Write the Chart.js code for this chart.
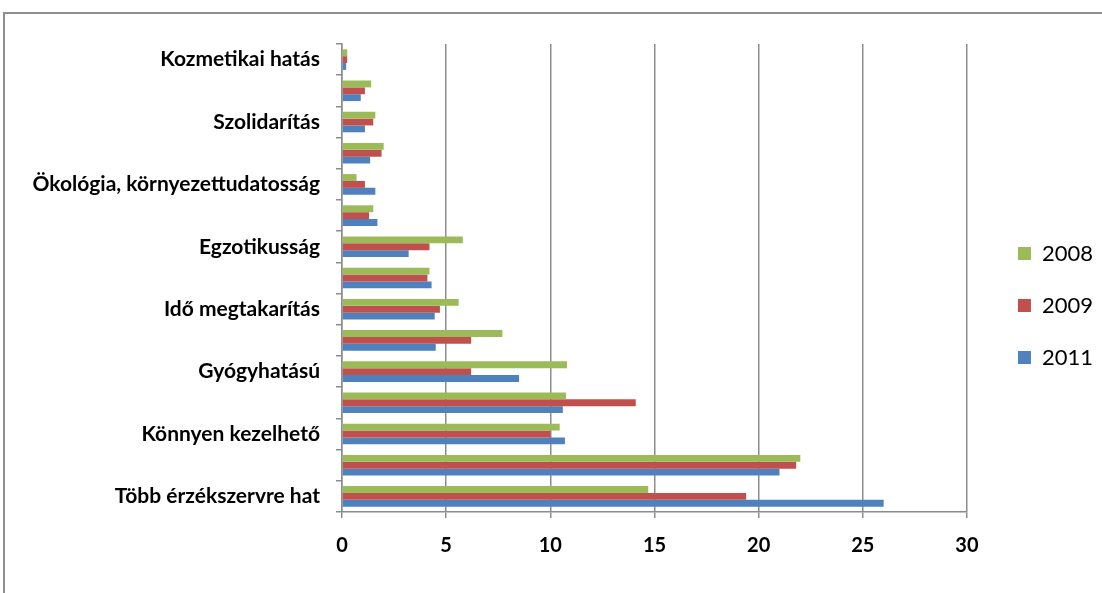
<!DOCTYPE html>
<html lang="hu">
<head>
<meta charset="UTF-8" />
<script src="https://cdn.jsdelivr.net/npm/chart.js"></script>
<title>Vásárlási motivációk</title>
<style>
  body { margin: 0; background: #fff; }
  .keret {
    position: absolute; left: 3px; top: 12px; width: 1200px; height: 700px;
    border-left: 2px solid #8f8f8f; border-top: 2px solid #8f8f8f;
  }
  .doboz { position: absolute; left: 0; top: 0; width: 1102px; height: 593px; }
</style>
</head>
<body>
<div class="keret"></div>
<div class="doboz"><canvas id="grafikon"></canvas></div>

<script>
  // kategóriák fentről lefelé (üres: a címke nem látszik az eredetin)
  const kategoriak = [
    "Kozmetikai hatás", "", "Szolidarítás", "", "Ökológia, környezettudatosság", "",
    "Egzotikusság", "", "Idő megtakarítás", "", "Gyógyhatású", "",
    "Könnyen kezelhető", "", "Több érzékszervre hat"
  ];
  const ertekek2008 = [0.25, 1.4, 1.6, 2.0, 0.7, 1.5, 5.8, 4.2, 5.6, 7.7, 10.8, 10.75, 10.45, 22.0, 14.7];
  const ertekek2009 = [0.25, 1.1, 1.5, 1.9, 1.1, 1.3, 4.2, 4.1, 4.7, 6.2, 6.2, 14.1, 10.0, 21.8, 19.4];
  const ertekek2011 = [0.2, 0.9, 1.1, 1.35, 1.6, 1.7, 3.2, 4.3, 4.45, 4.5, 8.5, 10.6, 10.7, 21.0, 26.0];
  const xTickek = [0, 5, 10, 15, 20, 25, 30];

  const dados = {
    labels: kategoriak,
    datasets: [
      { label: "2008", data: ertekek2008, backgroundColor: "#9BBB59" },
      { label: "2009", data: ertekek2009, backgroundColor: "#C0504D" },
      { label: "2011", data: ertekek2011, backgroundColor: "#4F81BD" },
    ],
  };

  // a jelmagyarázatot kicsit jobbra és feljebb toljuk
  const legendaTolas = {
    id: "legendaTolas",
    afterLayout(chart) {
      chart.legend.left += 21;
      chart.legend.right += 21;
      chart.legend.top -= 13;
      chart.legend.bottom -= 13;
    },
  };

  const config = {
    type: "bar",
    data: dados,
    options: {
      indexAxis: "y",
      responsive: false,
      animation: false,
      devicePixelRatio: 1,
      layout: { padding: { left: 0, top: 44, right: 20, bottom: 0 } },
      datasets: { bar: { categoryPercentage: 0.66, barPercentage: 1 } },
      scales: {
        x: {
          min: 0,
          max: 30,
          afterBuildTicks: (scale) => { scale.ticks = xTickek.map((v) => ({ value: v })); },
          afterFit: (scale) => { scale.height = 81; },
          grid: { color: "#8c8c8c", lineWidth: 1.5, tickLength: 6, tickColor: "#8c8c8c" },
          border: { color: "#8c8c8c", width: 1.5 },
          ticks: { color: "#000", padding: 16, font: { family: "Lato", size: 20, weight: "bold" } },
        },
        y: {
          afterFit: (scale) => { scale.width = 342; },
          grid: { drawOnChartArea: false, offset: true, tickLength: 6, color: "#8c8c8c", lineWidth: 1.5 },
          border: { color: "#8c8c8c", width: 1.5 },
          ticks: { autoSkip: false, color: "#000", padding: 16, font: { family: "Lato", size: 21, weight: "bold" } },
        },
      },
      plugins: {
        legend: {
          display: true,
          position: "right",
          labels: {
            color: "#000",
            boxWidth: 13,
            boxHeight: 13,
            padding: 30,
            font: { family: "Lato", size: 22 },
          },
        },
        tooltip: { enabled: false },
      },
    },
    plugins: [legendaTolas],
  };

  const canvas = document.getElementById("grafikon");
  canvas.width = 1102;
  canvas.height = 593;
  new Chart(canvas.getContext("2d"), config);
</script>
</body>
</html>
